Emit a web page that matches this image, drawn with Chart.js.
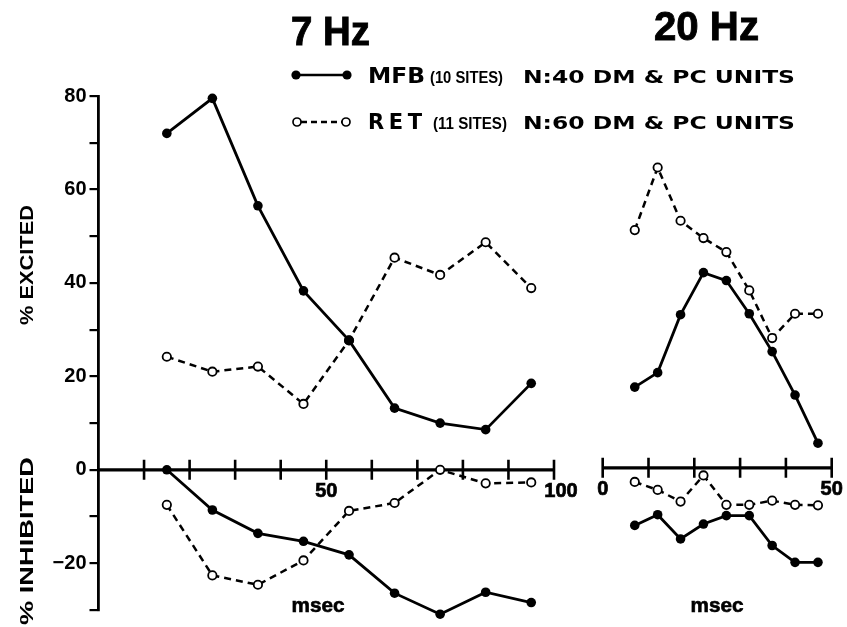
<!DOCTYPE html>
<html>
<head>
<meta charset="utf-8">
<script src="https://cdn.jsdelivr.net/npm/chart.js@4/dist/chart.umd.min.js"></script>
<style>
  html, body { margin: 0; padding: 0; background: #fff; overflow: hidden; }
  #wrap { position: relative; width: 847px; height: 627px; }
  #wrap canvas, #wrap svg { position: absolute; left: 0; top: 0; }
  svg text { font-family: "Liberation Sans", Arial, sans-serif; font-weight: bold; fill: #000; }
  svg text.wide { font-family: "DejaVu Sans", sans-serif; }
  svg text.heavy { stroke: #000; stroke-width: 0.9px; }
</style>
</head>
<body>
<div id="wrap">
  <canvas id="c7" width="847" height="627"></canvas>
  <canvas id="c20" width="847" height="627"></canvas>
  <svg width="847" height="627" viewBox="0 0 847 627">
    <text class="heavy" x="291" y="45" font-size="40" textLength="79" lengthAdjust="spacingAndGlyphs">7 Hz</text>
    <text class="heavy" x="654" y="40" font-size="40" textLength="105" lengthAdjust="spacingAndGlyphs">20 Hz</text>

    <line x1="296" y1="75" x2="347" y2="75" stroke="#000" stroke-width="2.6"/>
    <circle cx="296" cy="75" r="4.6" fill="#000"/>
    <circle cx="347" cy="75" r="4.6" fill="#000"/>
    <text class="wide" x="368" y="83" font-size="21" textLength="57" lengthAdjust="spacingAndGlyphs">MFB</text>
    <text x="430" y="83" font-size="16" textLength="73" lengthAdjust="spacingAndGlyphs">(10 SITES)</text>
    <text class="wide" x="523" y="83" font-size="17.5" textLength="272" lengthAdjust="spacingAndGlyphs">N:40 DM &amp; PC  UNITS</text>

    <line x1="301" y1="122" x2="342" y2="122" stroke="#000" stroke-width="2.4" stroke-dasharray="6,4"/>
    <circle cx="297" cy="122" r="4" fill="#fff" stroke="#000" stroke-width="1.7"/>
    <circle cx="346" cy="122" r="4" fill="#fff" stroke="#000" stroke-width="1.7"/>
    <text class="wide" x="368" y="129" font-size="21" textLength="54" lengthAdjust="spacing">RET</text>
    <text x="433" y="129" font-size="16" textLength="74" lengthAdjust="spacingAndGlyphs">(11 SITES)</text>
    <text class="wide" x="523" y="129" font-size="17.5" textLength="272" lengthAdjust="spacingAndGlyphs">N:60 DM &amp; PC  UNITS</text>

    <text transform="translate(33,325) rotate(-90)" font-size="19" textLength="120" lengthAdjust="spacingAndGlyphs">% EXCITED</text>
    <text transform="translate(33,625) rotate(-90)" font-size="19" textLength="168" lengthAdjust="spacingAndGlyphs">% INHIBITED</text>

    <text class="heavy" x="318" y="612" font-size="20" text-anchor="middle" textLength="53" lengthAdjust="spacingAndGlyphs" style="stroke-width:0.6px">msec</text>
    <text class="heavy" x="717" y="612" font-size="20" text-anchor="middle" textLength="53" lengthAdjust="spacingAndGlyphs" style="stroke-width:0.6px">msec</text>
  </svg>
</div>
<script>
// 7 Hz stimulation: latency (msec) and % of units excited / inhibited
const msec7    = [15, 25, 35, 45, 55, 65, 75, 85, 95];
const mfbExc7  = [72.0, 79.5, 56.5, 38.3, 27.7, 13.2, 10.0, 8.6, 18.5];
const retExc7  = [24.2, 21.0, 22.1, 14.1, 27.7, 45.4, 41.7, 48.7, 38.9];
const mfbInh7  = [0, -8.6, -13.6, -15.3, -18.2, -26.4, -30.9, -26.2, -28.4];
const retInh7  = [-7.5, -22.6, -24.6, -19.4, -8.8, -7.1, 0, -2.9, -2.7];

// 20 Hz stimulation
const msec20   = [7, 12, 17, 22, 27, 32, 37, 42, 47];
const mfbExc20 = [17.7, 20.8, 33.2, 42.2, 40.5, 33.4, 25.3, 16.0, 5.7];
const retExc20 = [51.3, 64.7, 53.3, 49.6, 46.6, 38.4, 28.2, 33.4, 33.4];
const mfbInh20 = [-11.9, -9.6, -14.8, -11.6, -9.8, -9.8, -16.2, -19.8, -19.8];
const retInh20 = [-2.6, -4.3, -6.8, -1.2, -7.5, -7.5, -6.6, -7.5, -7.6];

// axis ticks and labels
const xTicks7   = [10, 20, 30, 40, 50, 60, 70, 80, 90, 100];
const xLabels7  = [50, 100];
const xTicks20  = [0, 10, 20, 30, 40, 50];
const xLabels20 = [0, 50];
const yLabelled = [80, 60, 40, 20, 0, -20];

const FONT = '"Liberation Sans", Arial, sans-serif';

function pts(xs, ys) { return xs.map((x, i) => ({ x, y: ys[i] })); }

function mfbSet(xs, ys) {
  return {
    data: pts(xs, ys),
    borderColor: '#000', borderWidth: 2.8,
    pointRadius: 4.8, pointBackgroundColor: '#000', pointBorderWidth: 0,
    pointHoverRadius: 4.8, clip: false, order: 0
  };
}
function retSet(xs, ys) {
  return {
    data: pts(xs, ys),
    borderColor: '#000', borderWidth: 2.5, borderDash: [7, 5],
    pointRadius: 4.2, pointBackgroundColor: '#fff', pointBorderColor: '#000', pointBorderWidth: 1.8,
    pointHoverRadius: 4.2, clip: false, order: 1
  };
}

// horizontal zero axis with ticks crossing the line
const crossAxis = {
  id: 'crossAxis',
  beforeDatasetsDraw(chart, args, opts) {
    const { ctx } = chart;
    const xs = chart.scales.x, ys = chart.scales.y;
    const y0 = ys.getPixelForValue(0) + (opts.dy || 0);
    ctx.save();
    ctx.strokeStyle = '#000';
    ctx.lineWidth = 3.2;
    ctx.beginPath();
    ctx.moveTo(xs.getPixelForValue(xs.min), y0);
    ctx.lineTo(xs.getPixelForValue(xs.max), y0);
    ctx.stroke();
    ctx.lineWidth = 2.6;
    ctx.beginPath();
    opts.ticks.forEach(t => {
      const px = xs.getPixelForValue(t);
      ctx.moveTo(px, y0 - 10);
      ctx.lineTo(px, y0 + 10);
    });
    ctx.stroke();
    ctx.fillStyle = '#000';
    ctx.strokeStyle = '#000';
    ctx.lineWidth = 0.7;
    ctx.font = 'bold 20px ' + FONT;
    ctx.textAlign = 'center';
    ctx.textBaseline = 'alphabetic';
    opts.labels.forEach(t => {
      const shift = (opts.shift && opts.shift[t]) || 0;
      const px = xs.getPixelForValue(t) + shift;
      ctx.fillText(String(t), px, y0 + 27);
      ctx.strokeText(String(t), px, y0 + 27);
    });
    ctx.restore();
  }
};

const common = {
  type: 'line',
  plugins: [crossAxis]
};

new Chart(document.getElementById('c7'), {
  ...common,
  data: {
    datasets: [
      mfbSet(msec7, mfbExc7), mfbSet(msec7, mfbInh7),
      retSet(msec7, retExc7), retSet(msec7, retInh7)
    ]
  },
  options: {
    responsive: false, animation: false, devicePixelRatio: 1,
    layout: { padding: { left: 38.5, right: 293, top: 96, bottom: 17 } },
    plugins: {
      legend: { display: false }, tooltip: { enabled: false },
      crossAxis: { ticks: xTicks7, labels: xLabels7, shift: { 100: 7 } }
    },
    scales: {
      x: { type: 'linear', min: 0, max: 100, display: false },
      y: {
        type: 'linear', position: 'left', min: -30, max: 80,
        afterFit(scale) { scale.width = 60; },
        ticks: {
          stepSize: 10, color: '#000', padding: 3,
          font: { family: FONT, size: 20, weight: 'bold' },
          callback: v => yLabelled.includes(v) ? (v < 0 ? '\u2212' + Math.abs(v) : String(v)) : ''
        },
        grid: { drawOnChartArea: false, tickLength: 9, color: '#000', lineWidth: 2.2 },
        border: { color: '#000', width: 2.8 }
      }
    }
  }
});

new Chart(document.getElementById('c20'), {
  ...common,
  data: {
    datasets: [
      mfbSet(msec20, mfbExc20), mfbSet(msec20, mfbInh20),
      retSet(msec20, retExc20), retSet(msec20, retInh20)
    ]
  },
  options: {
    responsive: false, animation: false, devicePixelRatio: 1,
    layout: { padding: { left: 602.7, right: 15.3, top: 96, bottom: 17 } },
    plugins: {
      legend: { display: false }, tooltip: { enabled: false },
      crossAxis: { ticks: xTicks20, labels: xLabels20, dy: -2 }
    },
    scales: {
      x: { type: 'linear', min: 0, max: 50, display: false },
      y: { type: 'linear', min: -30, max: 80, display: false }
    }
  }
});
</script>
</body>
</html>
